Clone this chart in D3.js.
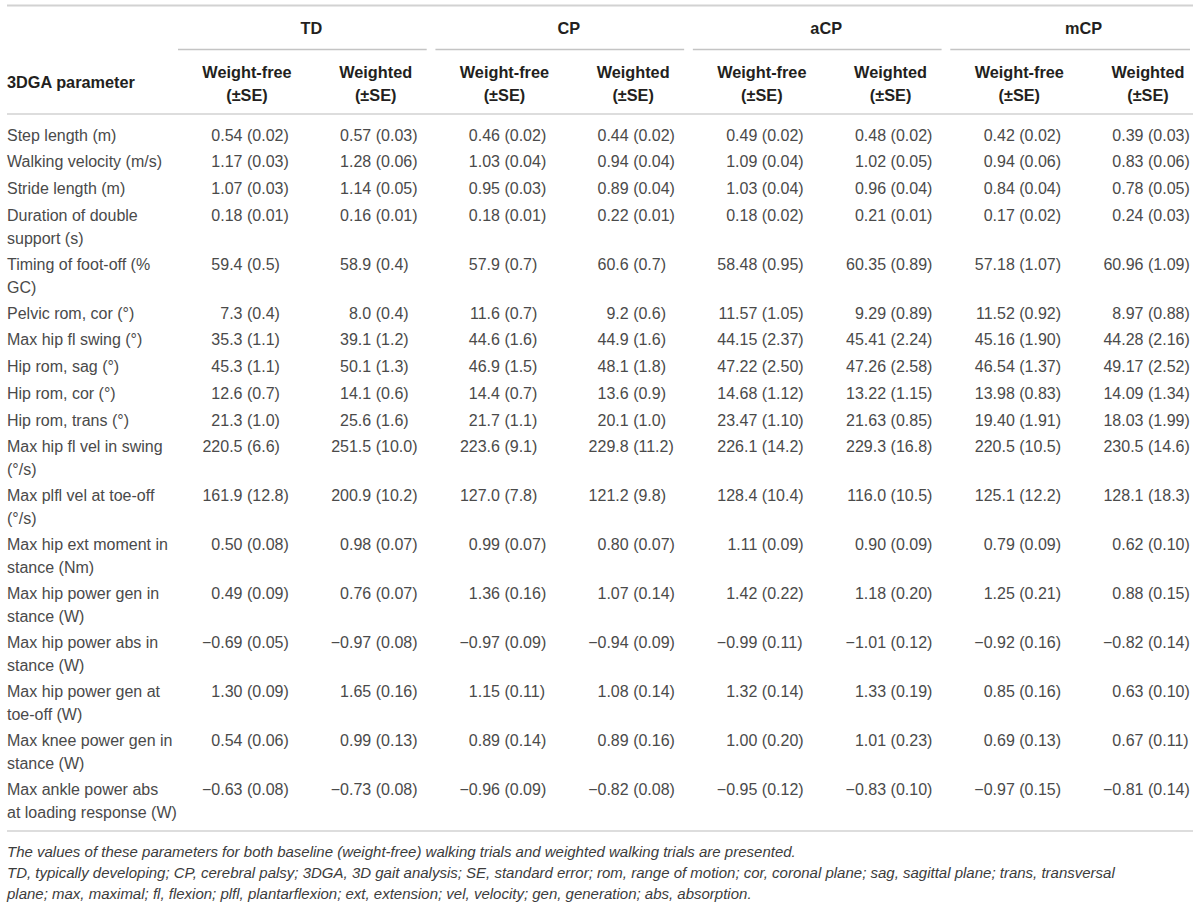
<!DOCTYPE html>
<html>
<head>
<meta charset="utf-8">
<script src="https://cdn.jsdelivr.net/npm/d3@7"></script>
<style>
  body { margin: 0; background: #fff; }
  svg { display: block; font-family: "Liberation Sans", Arial, Helvetica, sans-serif; }
</style>
</head>
<body>
<div id="table"></div>
<script>
// table content
var groups = ['TD', 'CP', 'aCP', 'mCP'];
var conditions = ['Weight-free', 'Weighted'];
var stubHeader = '3DGA parameter';
var seLabel = '(\u00b1SE)';

var parameters = [
	['Step length (m)'],
	['Walking velocity (m/s)'],
	['Stride length (m)'],
	['Duration of double', 'support (s)'],
	['Timing of foot-off (%', 'GC)'],
	['Pelvic rom, cor (\u00b0)'],
	['Max hip fl swing (\u00b0)'],
	['Hip rom, sag (\u00b0)'],
	['Hip rom, cor (\u00b0)'],
	['Hip rom, trans (\u00b0)'],
	['Max hip fl vel in swing', '(\u00b0/s)'],
	['Max plfl vel at toe-off', '(\u00b0/s)'],
	['Max hip ext moment in', 'stance (Nm)'],
	['Max hip power gen in', 'stance (W)'],
	['Max hip power abs in', 'stance (W)'],
	['Max hip power gen at', 'toe-off (W)'],
	['Max knee power gen in', 'stance (W)'],
	['Max ankle power abs', 'at loading response (W)']
];

var tdFree = ['0.54 (0.02)', '1.17 (0.03)', '1.07 (0.03)', '0.18 (0.01)', '59.4 (0.5)', '7.3 (0.4)', '35.3 (1.1)', '45.3 (1.1)', '12.6 (0.7)', '21.3 (1.0)', '220.5 (6.6)', '161.9 (12.8)', '0.50 (0.08)', '0.49 (0.09)', '\u22120.69 (0.05)', '1.30 (0.09)', '0.54 (0.06)', '\u22120.63 (0.08)'];
var tdWeighted = ['0.57 (0.03)', '1.28 (0.06)', '1.14 (0.05)', '0.16 (0.01)', '58.9 (0.4)', '8.0 (0.4)', '39.1 (1.2)', '50.1 (1.3)', '14.1 (0.6)', '25.6 (1.6)', '251.5 (10.0)', '200.9 (10.2)', '0.98 (0.07)', '0.76 (0.07)', '\u22120.97 (0.08)', '1.65 (0.16)', '0.99 (0.13)', '\u22120.73 (0.08)'];
var cpFree = ['0.46 (0.02)', '1.03 (0.04)', '0.95 (0.03)', '0.18 (0.01)', '57.9 (0.7)', '11.6 (0.7)', '44.6 (1.6)', '46.9 (1.5)', '14.4 (0.7)', '21.7 (1.1)', '223.6 (9.1)', '127.0 (7.8)', '0.99 (0.07)', '1.36 (0.16)', '\u22120.97 (0.09)', '1.15 (0.11)', '0.89 (0.14)', '\u22120.96 (0.09)'];
var cpWeighted = ['0.44 (0.02)', '0.94 (0.04)', '0.89 (0.04)', '0.22 (0.01)', '60.6 (0.7)', '9.2 (0.6)', '44.9 (1.6)', '48.1 (1.8)', '13.6 (0.9)', '20.1 (1.0)', '229.8 (11.2)', '121.2 (9.8)', '0.80 (0.07)', '1.07 (0.14)', '\u22120.94 (0.09)', '1.08 (0.14)', '0.89 (0.16)', '\u22120.82 (0.08)'];
var acpFree = ['0.49 (0.02)', '1.09 (0.04)', '1.03 (0.04)', '0.18 (0.02)', '58.48 (0.95)', '11.57 (1.05)', '44.15 (2.37)', '47.22 (2.50)', '14.68 (1.12)', '23.47 (1.10)', '226.1 (14.2)', '128.4 (10.4)', '1.11 (0.09)', '1.42 (0.22)', '\u22120.99 (0.11)', '1.32 (0.14)', '1.00 (0.20)', '\u22120.95 (0.12)'];
var acpWeighted = ['0.48 (0.02)', '1.02 (0.05)', '0.96 (0.04)', '0.21 (0.01)', '60.35 (0.89)', '9.29 (0.89)', '45.41 (2.24)', '47.26 (2.58)', '13.22 (1.15)', '21.63 (0.85)', '229.3 (16.8)', '116.0 (10.5)', '0.90 (0.09)', '1.18 (0.20)', '\u22121.01 (0.12)', '1.33 (0.19)', '1.01 (0.23)', '\u22120.83 (0.10)'];
var mcpFree = ['0.42 (0.02)', '0.94 (0.06)', '0.84 (0.04)', '0.17 (0.02)', '57.18 (1.07)', '11.52 (0.92)', '45.16 (1.90)', '46.54 (1.37)', '13.98 (0.83)', '19.40 (1.91)', '220.5 (10.5)', '125.1 (12.2)', '0.79 (0.09)', '1.25 (0.21)', '\u22120.92 (0.16)', '0.85 (0.16)', '0.69 (0.13)', '\u22120.97 (0.15)'];
var mcpWeighted = ['0.39 (0.03)', '0.83 (0.06)', '0.78 (0.05)', '0.24 (0.03)', '60.96 (1.09)', '8.97 (0.88)', '44.28 (2.16)', '49.17 (2.52)', '14.09 (1.34)', '18.03 (1.99)', '230.5 (14.6)', '128.1 (18.3)', '0.62 (0.10)', '0.88 (0.15)', '\u22120.82 (0.14)', '0.63 (0.10)', '0.67 (0.11)', '\u22120.81 (0.14)'];

var footnotes = [
	'The values of these parameters for both baseline (weight-free) walking trials and weighted walking trials are presented.',
	'TD, typically developing; CP, cerebral palsy; 3DGA, 3D gait analysis; SE, standard error; rom, range of motion; cor, coronal plane; sag, sagittal plane; trans, transversal',
	'plane; max, maximal; fl, flexion; plfl, plantarflexion; ext, extension; vel, velocity; gen, generation; abs, absorption.'
];

var columns = [tdFree, tdWeighted, cpFree, cpWeighted, acpFree, acpWeighted, mcpFree, mcpWeighted];

var width = 1200, height = 903;
var left = 7, right = 1193;
var headColor = '#231f20', cellColor = '#4a4a4a', ruleColor = '#d2d2d2';

var colKeys = d3.range(columns.length);
// x of the "(" in each value column
var x = d3.scalePoint().domain(colKeys).range([247, 1148]);

// rows: first line centre, then cumulative heights
var singleRow = 26.75, extraLine = 22.15, lineGap = 23;
var rowHeights = parameters.map(function(p){ return singleRow + (p.length - 1) * extraLine; });
var rowY = [135].concat(Array.from(d3.cumsum(rowHeights)).map(function(h){ return 135 + h; })).slice(0, parameters.length);

var svg = d3.select('#table').append('svg')
	.attr('width', width)
	.attr('height', height);

svg.append('rect').attr('width', width).attr('height', height).attr('fill', '#fff');

function rule(y, x1, x2, w, c) {
	svg.append('line')
		.attr('x1', x1).attr('x2', x2)
		.attr('y1', y).attr('y2', y)
		.attr('stroke', c || ruleColor)
		.attr('stroke-width', w || 1.5);
}

rule(5.5, left, right, 2);
rule(114, left, right, 1.5);
var lastY = rowY[rowY.length - 1] + (parameters[parameters.length - 1].length - 1) * lineGap;
rule(lastY + 19, left, right, 1.5);

// group headers
var head = svg.append('g').attr('font-weight', 'bold').attr('fill', headColor).attr('font-size', '16.3px');

groups.forEach(function(g, i){
	var a = x(i * 2), b = x(i * 2 + 1);
	head.append('text')
		.attr('x', (a + b) / 2)
		.attr('y', 34)
		.attr('text-anchor', 'middle')
		.text(g);
	rule(49.5, a - 69, Math.min(b + 51, 1190), 1.5, '#c4c4c4');
});

head.append('text')
	.attr('x', left)
	.attr('y', 88)
	.text(stubHeader);

colKeys.forEach(function(k){
	head.append('text')
		.attr('x', x(k))
		.attr('y', 78)
		.attr('text-anchor', 'middle')
		.text(conditions[k % 2]);
	head.append('text')
		.attr('x', x(k))
		.attr('y', 101)
		.attr('text-anchor', 'middle')
		.text(seLabel);
});

// body
var body = svg.append('g').attr('fill', cellColor).attr('font-size', '16px');

var rows = body.selectAll('g.row')
	.data(parameters)
	.enter().append('g')
	.attr('class', 'row')
	.attr('transform', function(d, i){ return 'translate(0,' + (rowY[i] + 5.5) + ')'; });

rows.selectAll('text.label')
	.data(function(d){ return d; })
	.enter().append('text')
	.attr('class', 'label')
	.attr('x', left)
	.attr('y', function(d, j){ return j * lineGap; })
	.text(function(d){ return d; });

colKeys.forEach(function(k){
	rows.each(function(d, i){
		var parts = columns[k][i].split(' (');
		var row = d3.select(this);
		row.append('text')
			.attr('x', x(k) - 4.5)
			.attr('text-anchor', 'end')
			.text(parts[0]);
		row.append('text')
			.attr('x', x(k))
			.text('(' + parts[1]);
	});
});

// footnotes
svg.append('g')
	.attr('fill', '#3c3c3c')
	.attr('font-size', '15px')
	.attr('font-style', 'italic')
	.selectAll('text')
	.data(footnotes)
	.enter().append('text')
	.attr('x', left)
	.attr('y', function(d, i){ return 856.5 + i * 21; })
	.text(function(d){ return d; });
</script>
</body>
</html>
